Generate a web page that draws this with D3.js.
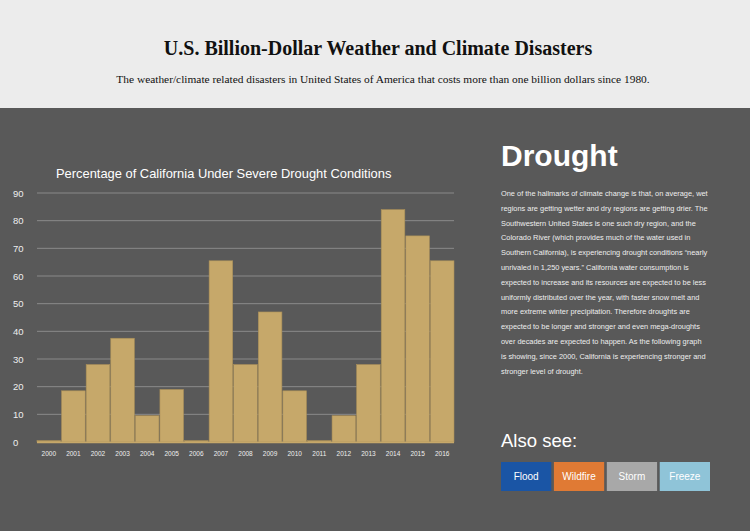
<!DOCTYPE html>
<html><head><meta charset="utf-8">
<script src="https://cdn.jsdelivr.net/npm/d3@7"></script>
<style>
body{margin:0;width:750px;height:531px;overflow:hidden;background:#595959;}
</style></head><body>
<script>
const years = ["2000","2001","2002","2003","2004","2005","2006","2007","2008","2009","2010","2011","2012","2013","2014","2015","2016"];
const drought = [0.5,18.5,28,37.5,9.5,19,0.5,65.5,28,47,18.5,0.5,9.5,28,84,74.5,65.5];
const yTicks = [0,10,20,30,40,50,60,70,80,90];
const links = ["Flood","Wildfire","Storm","Freeze"];
const linkColors = ["#1a55a5","#e07a34","#a8a8a8","#8fc4d8"];
const paragraph = [
 "One of the hallmarks of climate change is that, on average, wet",
 "regions are getting wetter and dry regions are getting drier. The",
 "Southwestern United States is one such dry region, and the",
 "Colorado River (which provides much of the water used in",
 "Southern California), is experiencing drought conditions \u201cnearly",
 "unrivaled in 1,250 years.\u201d California water consumption is",
 "expected to increase and its resources are expected to be less",
 "uniformly distributed over the year, with faster snow melt and",
 "more extreme winter precipitation. Therefore droughts are",
 "expected to be longer and stronger and even mega-droughts",
 "over decades are expected to happen. As the following graph",
 "is showing, since 2000, California is experiencing stronger and",
 "stronger level of drought."];

const svg = d3.select("body").append("svg").attr("width",750).attr("height",531);
svg.append("rect").attr("width",750).attr("height",108).attr("fill","#ececec");
svg.append("text").attr("x",378).attr("y",55).attr("text-anchor","middle")
  .attr("font-family","Liberation Serif").attr("font-weight","bold").attr("font-size",20)
  .attr("fill","#111").text("U.S. Billion-Dollar Weather and Climate Disasters");
svg.append("text").attr("x",383).attr("y",83).attr("text-anchor","middle")
  .attr("font-family","Liberation Serif").attr("font-size",11.4)
  .attr("fill","#111").text("The weather/climate related disasters in United States of America that costs more than one billion dollars since 1980.");

// chart
const x = d3.scaleBand().domain(years).range([37,454]).paddingInner(0.04);
const y = d3.scaleLinear().domain([0,90]).range([442,193]);
const font = "Helvetica, Liberation Sans, Arial, sans-serif";

svg.append("text").attr("x",56).attr("y",178).attr("font-family",font).attr("font-size",12.9)
  .attr("fill","#fff").text("Percentage of California Under Severe Drought Conditions");

const g = svg.append("g");
g.selectAll("line.grid").data(yTicks).join("line")
  .attr("x1",37).attr("x2",454).attr("y1",d=>y(d)).attr("y2",d=>y(d))
  .attr("stroke","#8a8a8a").attr("stroke-width",1);
g.selectAll("text.yl").data(yTicks).join("text")
  .attr("x",13).attr("y",d=>y(d)+3.5).attr("font-family",font).attr("font-size",9.5)
  .attr("fill","#eee").text(d=>d);
g.selectAll("rect.bar").data(drought).join("rect")
  .attr("x",(d,i)=>x(years[i])).attr("width",x.bandwidth())
  .attr("y",d=>y(d)).attr("height",d=>y(0)-y(d))
  .attr("fill","#c6a86a").attr("stroke","#a88e58").attr("stroke-width",0.6);
g.append("line").attr("x1",37).attr("x2",454).attr("y1",y(0)+0.5).attr("y2",y(0)+0.5)
  .attr("stroke","#c6a86a").attr("stroke-width",1.5);
g.selectAll("text.xl").data(years).join("text")
  .attr("x",d=>x(d)+x.bandwidth()/2).attr("y",456).attr("text-anchor","middle")
  .attr("font-family",font).attr("font-size",6.5).attr("fill","#eee").text(d=>d);

// side panel
svg.append("text").attr("x",501).attr("y",166).attr("font-family",font).attr("font-weight","bold")
  .attr("font-size",30).attr("fill","#fff").text("Drought");
svg.append("g").selectAll("text").data(paragraph).join("text")
  .attr("x",501).attr("y",(d,i)=>196+i*14.8).attr("font-family",font).attr("font-size",7.4)
  .attr("fill","#eee").text(d=>d);
svg.append("text").attr("x",501).attr("y",447).attr("font-family",font)
  .attr("font-size",18.5).attr("fill","#fff").text("Also see:");
const bx = d3.scaleBand().domain(links).range([501,710]).paddingInner(0.05);
const btn = svg.append("g").selectAll("g").data(links).join("g");
btn.append("rect").attr("x",d=>bx(d)).attr("y",462).attr("width",bx.bandwidth()).attr("height",29)
  .attr("fill",(d,i)=>linkColors[i]);
btn.append("text").attr("x",d=>bx(d)+bx.bandwidth()/2).attr("y",480).attr("text-anchor","middle")
  .attr("font-family",font).attr("font-size",10).attr("fill","#fff").text(d=>d);
</script>
</body></html>
